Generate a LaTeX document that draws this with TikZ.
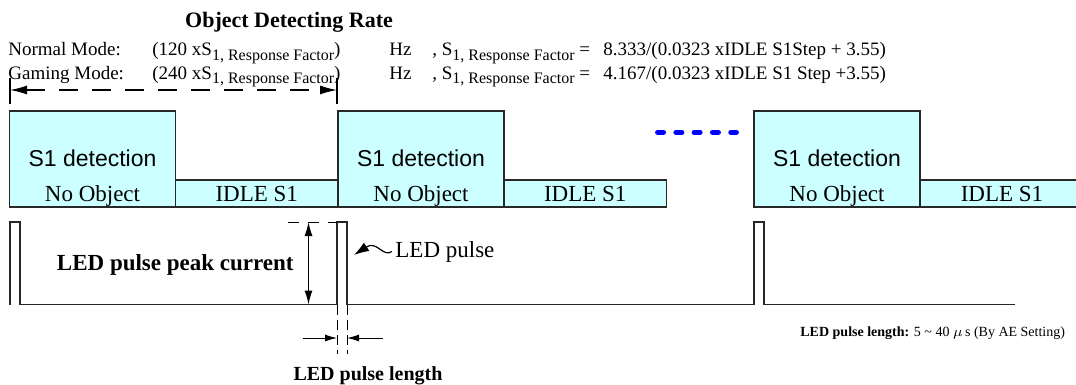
\documentclass[tikz,border=0pt]{standalone}
\usepackage{fontspec}
\setmainfont{Liberation Serif}
\newfontfamily\arialfont{Liberation Sans}
\usetikzlibrary{arrows.meta}
\definecolor{boxfill}{RGB}{204,255,255}
\definecolor{boxline}{RGB}{40,40,40}
\definecolor{dotblue}{RGB}{0,0,255}
\newcommand{\fcab}{\fontsize{9.5pt}{11pt}\selectfont}
\newcommand{\fsub}{\fontsize{8pt}{9.5pt}\selectfont}
\newcommand{\ftit}{\fontsize{11pt}{13pt}\selectfont\bfseries}
\newcommand{\fcel}{\fontsize{11.5pt}{13pt}\selectfont}
\newcommand{\fbot}{\fontsize{10pt}{12pt}\selectfont}
\newcommand{\fnota}{\fontsize{7pt}{8.5pt}\selectfont}
\newcommand{\respf}{\raisebox{-2pt}{\fsub 1, Response Factor}}

\begin{document}
\begin{tikzpicture}[x = 0.5pt, y = -0.5pt,
	txt/.style = {inner sep = 0pt, anchor = base west, font = \fcab},
	celtxt/.style = {inner sep = 0pt, anchor = base, font = \fcel},
	detbox/.style = {draw = boxline, fill = boxfill, line width = 0.65pt},
	wave/.style = {line width = 0.65pt, black!85},
	dimarrow/.style = {line width = 0.5pt, -{Latex[length = 6pt, width = 3.5pt]}}]

	\useasboundingbox (0, 0) rectangle (1076, 385);

	%%% TEXTO SUPERIOR %%%

	\node[inner sep = 0pt, anchor = base, font = \ftit] (titulo) at (289, 28) {Object Detecting Rate};

	\node[txt] (normal)     at (8,   56) {Normal Mode:};
	\node[txt] (normalrate) at (152, 56) {(120 xS\respf)};
	\node[txt] (normalhz)   at (389, 56) {Hz};
	\node[txt] (normalfac)  at (432, 56) {, S\respf\ =};
	\node[txt] (normaleq)   at (603, 56) {8.333/(0.0323 xIDLE S1Step + 3.55)};

	\node[txt] (gaming)     at (8,   80) {Gaming Mode:};
	\node[txt] (gamingrate) at (152, 80) {(240 xS\respf)};
	\node[txt] (gaminghz)   at (389, 80) {Hz};
	\node[txt] (gamingfac)  at (432, 80) {, S\respf\ =};
	\node[txt] (gamingeq)   at (603, 80) {4.167/(0.0323 xIDLE S1 Step +3.55)};

	\coordinate (perini) at (10,  90);
	\coordinate (perfim) at (337, 90);
	\draw[line width = 0.6pt] (10,  78) -- (10,  104);
	\draw[line width = 0.6pt] (337, 78) -- (337, 104);
	\draw[line width = 0.6pt, dash pattern = on 9.5pt off 7pt, {Latex[length = 8.5pt, width = 4.5pt]}-{Latex[length = 8.5pt, width = 4.5pt]}] (perini) -- (perfim); % periodo

	%%% BLOCOS %%%

	\draw[detbox] (9.5, 111) rectangle (175.5, 207);
	\draw[detbox] (175.5, 180) rectangle (338, 207);
	\draw[detbox] (338, 111) rectangle (504, 207);
	\draw[detbox] (504, 180) rectangle (666.5, 207);
	\draw[detbox] (754, 111) rectangle (920, 207);
	\begin{scope}
		\clip (0, 0) rectangle (1076, 385);
		\draw[detbox] (920, 180) rectangle (1084, 207); % cortado na borda
	\end{scope}

	\node[celtxt, font = \fcel\arialfont] (det1) at (92.5, 167) {S1 detection};
	\node[celtxt, font = \fcel\arialfont] (det2) at (421,  167) {S1 detection};
	\node[celtxt, font = \fcel\arialfont] (det3) at (837,  167) {S1 detection};

	\node[celtxt] (obj1) at (92.5, 201) {No Object};
	\node[celtxt] (obj2) at (421,  201) {No Object};
	\node[celtxt] (obj3) at (837,  201) {No Object};

	\node[celtxt] (idle1) at (256.75, 201) {IDLE S1};
	\node[celtxt] (idle2) at (585.25, 201) {IDLE S1};
	\node[celtxt] (idle3) at (1002,   201) {IDLE S1};

	\draw[dotblue, line width = 2.65pt, line cap = round, dash pattern = on 2.85pt off 6.3pt] (657.7, 132.3) -- (736.3, 132.3);

	%%% PULSOS %%%

	\draw[wave] (10, 304.5) -- (10, 222) -- (20, 222) -- (20, 304.5)
		-- (337, 304.5) -- (337, 222) -- (347, 222) -- (347, 304.5)
		-- (754, 304.5) -- (754, 222) -- (764, 222) -- (764, 304.5) -- (1015, 304.5);

	\draw[line width = 0.5pt, dash pattern = on 5.5pt off 4.5pt] (288, 222) -- (337, 222);
	\coordinate (picotopo) at (308.5, 222);
	\coordinate (picobase) at (308.5, 304.5);
	\draw[line width = 0.6pt, {Latex[length = 7pt, width = 4pt]}-{Latex[length = 7pt, width = 4pt]}] (picotopo) -- (picobase);
	\node[inner sep = 0pt, anchor = base east, font = \fcel\bfseries] (pico) at (294, 270.5) {LED pulse peak current};

	\node[inner sep = 0pt, anchor = base west, font = \fcel] (pulso) at (395, 257) {LED pulse};
	\coordinate (pulsoponta) at (354, 255);
	\draw[line width = 0.6pt, -{Latex[length = 7.5pt, width = 5pt]}] ([xshift = -1.5pt]pulso.west) .. controls (383, 258) and (377, 240) .. (pulsoponta);

	\draw[line width = 0.5pt, dash pattern = on 5pt off 2.5pt] (337, 304.5) -- (337, 354);
	\draw[line width = 0.5pt, dash pattern = on 5pt off 2.5pt] (347, 304.5) -- (347, 354);
	\coordinate (larg1) at (337, 338);
	\coordinate (larg2) at (347, 338);
	\draw[dimarrow] (302.7, 338) -- (larg1);
	\draw[dimarrow] (382.7, 338) -- (larg2);
	\node[inner sep = 0pt, anchor = base, font = \fbot\bfseries] (largura) at (368, 380) {LED pulse length};

	\node[inner sep = 0pt, anchor = base west, font = \fnota] (nota) at (800, 336) {\textbf{LED pulse length:} 5 \textasciitilde{} 40 $\mu$\,s (By AE Setting)};

\end{tikzpicture}
\end{document}
